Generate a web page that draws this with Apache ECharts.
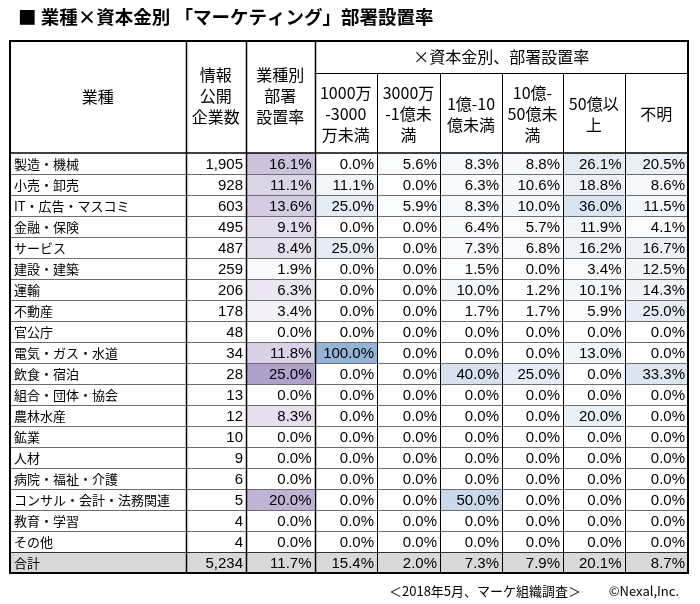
<!DOCTYPE html>
<html><head><meta charset="utf-8">
<script src="https://cdn.jsdelivr.net/npm/echarts@6/dist/echarts.min.js"></script>
<style>html,body{margin:0;padding:0;background:#fff}#c{width:700px;height:604px}</style>
</head><body><div id="c"></div>
<script>
// ---------- data ----------
const industries = ['製造・機械','小売・卸売','IT・広告・マスコミ','金融・保険','サービス','建設・建築','運輸','不動産','官公庁','電気・ガス・水道','飲食・宿泊','組合・団体・協会','農林水産','鉱業','人材','病院・福祉・介護','コンサル・会計・法務関連','教育・学習','その他','合計'];
const companies = [1905,928,603,495,487,259,206,178,48,34,28,13,12,10,9,6,5,4,4,5234];
const deptRate  = [16.1,11.1,13.6,9.1,8.4,1.9,6.3,3.4,0.0,11.8,25.0,0.0,8.3,0.0,0.0,0.0,20.0,0.0,0.0,11.7];
const cap1000to3000 = [0.0,11.1,25.0,0.0,25.0,0.0,0.0,0.0,0.0,100.0,0.0,0.0,0.0,0.0,0.0,0.0,0.0,0.0,0.0,15.4];
const cap3000to1oku = [5.6,0.0,5.9,0.0,0.0,0.0,0.0,0.0,0.0,0.0,0.0,0.0,0.0,0.0,0.0,0.0,0.0,0.0,0.0,2.0];
const cap1to10oku   = [8.3,6.3,8.3,6.4,7.3,1.5,10.0,1.7,0.0,0.0,40.0,0.0,0.0,0.0,0.0,0.0,50.0,0.0,0.0,7.3];
const cap10to50oku  = [8.8,10.6,10.0,5.7,6.8,0.0,1.2,1.7,0.0,0.0,25.0,0.0,0.0,0.0,0.0,0.0,0.0,0.0,0.0,7.9];
const cap50okuPlus  = [26.1,18.8,36.0,11.9,16.2,3.4,10.1,5.9,0.0,13.0,0.0,0.0,20.0,0.0,0.0,0.0,0.0,0.0,0.0,20.1];
const capUnknown    = [20.5,8.6,11.5,4.1,16.7,12.5,14.3,25.0,0.0,0.0,33.3,0.0,0.0,0.0,0.0,0.0,0.0,0.0,0.0,8.7];
const capCols = [cap1000to3000, cap3000to1oku, cap1to10oku, cap10to50oku, cap50okuPlus, capUnknown];
const headerIndustry = '業種';
const headerCompanies = '情報\n公開\n企業数';
const headerRate = '業種別\n部署\n設置率';
const headerGroup = '×資本金別、部署設置率';
const capHeaders = ['1000万\n-3000\n万未満','3000万\n-1億未\n満','1億-10\n億未満','10億-\n50億未\n満','50億以\n上','不明'];
const titleText = '■ 業種×資本金別 「マーケティング」部署設置率';
const footerSource = '＜2018年5月、マーケ組織調査＞';
const footerCopy = '©Nexal,Inc.';

// ---------- layout ----------
const L = 10, T = 41, SUB = 73, HB = 153, RH = 21;
const W = 678;
const colEdges = [0, 175.5, 236, 304.5, 367, 430, 492, 553, 614.5, 678];
const BOTTOM = HB + RH * industries.length;
const NUM_FONT = '15px "Liberation Sans", Arial, sans-serif';
const JP_FONT = '13px "Noto Sans CJK JP", sans-serif';
const HDR_FONT = '16px "Noto Sans CJK JP", sans-serif';
const PURPLE = [177, 160, 204];
const BLUE = [149, 179, 215];
const nData = industries.length - 1;
const maxRate = Math.max(...deptRate.slice(0, nData));
const maxCap = Math.max(...capCols.map(a => Math.max(...a.slice(0, nData))));
function mix(c, t) {
  t = Math.max(0, Math.min(1, t));
  const v = c.map(x => Math.round(255 - (255 - x) * t));
  return 'rgb(' + v.join(',') + ')';
}

const cells = [];
for (let r = 0; r < industries.length; r++)
  for (let c = 0; c < colEdges.length - 1; c++) cells.push([c, r]);

function renderItem(params, api) {
  const c = api.value(0), r = api.value(1);
  const left = api.coord([colEdges[c], r])[0];
  const right = api.coord([colEdges[c + 1], r])[0];
  const yc = api.coord([0, r])[1];
  const h = api.size([0, 1])[1];
  const top = yc - h / 2;
  const isTotal = r === industries.length - 1;
  let fill = '#fff', text, align = 'right', tx = right - 3, font = NUM_FONT;
  if (c === 0) { text = industries[r]; align = 'left'; tx = left + 4; font = JP_FONT; }
  else if (c === 1) { text = companies[r].toLocaleString('en-US'); }
  else {
    const v = c === 2 ? deptRate[r] : capCols[c - 3][r];
    text = v.toFixed(1) + '%';
    fill = c === 2 ? mix(PURPLE, v / maxRate) : mix(BLUE, v / maxCap);
  }
  if (isTotal) fill = '#d9d9d9';
  const by = Math.round(top + h) + 0.5;
  const children = [
    { type: 'rect', shape: { x: left, y: top, width: right - left, height: h }, style: { fill }, z2: 0 },
    { type: 'text', style: { text, x: tx, y: yc + 1, align, verticalAlign: 'middle', font, fill: '#000' }, z2: 5 }
  ];
  if (r < industries.length - 1) {
    children.push({ type: 'line', shape: { x1: left, y1: by, x2: right, y2: by },
      style: { stroke: r === industries.length - 2 ? '#333' : '#6e6e6e', lineWidth: 1 }, z2: 10 });
  }
  return { type: 'group', children };
}

// ---------- static graphic (header / borders / title) ----------
const g = [];
const px = i => L + colEdges[i];
g.push({ type: 'text', left: 18, top: 8, style: { text: titleText, font: 'bold 18.5px "Noto Sans CJK JP", sans-serif', fill: '#000' } });
function hText(text, x, y) {
  g.push({ type: 'text', x, y, style: { text, align: 'center', verticalAlign: 'middle', font: HDR_FONT, lineHeight: 21, fill: '#000' } });
}
hText(headerIndustry, (px(0) + px(1)) / 2, (T + HB) / 2);
hText(headerCompanies, (px(1) + px(2)) / 2, 96);
hText(headerRate, (px(2) + px(3)) / 2, 96);
hText(headerGroup, (px(3) + px(9)) / 2, (T + SUB) / 2);
capHeaders.forEach((t, i) => hText(t, (px(3 + i) + px(4 + i)) / 2, (SUB + HB) / 2 + 1));
// lines
function ln(x1, y1, x2, y2, w, col) {
  g.push({ type: 'line', z: 50, shape: { x1, y1, x2, y2 }, style: { stroke: col || '#000', lineWidth: w } });
}
ln(px(3), SUB + 0.5, px(9), SUB + 0.5, 1, '#000');
ln(px(0), HB, px(9), HB, 1.5, '#000');
for (let i = 1; i < 9; i++) {
  const x = Math.round(px(i)) + 0.5;
  if (i <= 3) ln(x, T, x, BOTTOM, 1.5, '#000');
  else ln(x, SUB, x, BOTTOM, 1, '#000');
}
g.push({ type: 'rect', z: 60, shape: { x: L, y: T, width: W, height: BOTTOM - T }, style: { fill: 'none', stroke: '#000', lineWidth: 2 } });
g.push({ type: 'text', x: 389, y: 591, style: { text: footerSource, align: 'left', verticalAlign: 'middle', font: '13px "Noto Sans CJK JP", sans-serif', fill: '#000' } });
g.push({ type: 'text', x: 679, y: 591, style: { text: footerCopy, align: 'right', verticalAlign: 'middle', font: '13px "Noto Sans CJK JP", sans-serif', fill: '#000' } });

const chart = echarts.init(document.getElementById('c'), null, { renderer: 'canvas' });
chart.setOption({
  animation: false,
  backgroundColor: '#fff',
  grid: { left: L, top: HB, width: W, height: RH * industries.length },
  xAxis: { type: 'value', min: 0, max: W, show: false },
  yAxis: { type: 'category', data: industries, inverse: true, show: false },
  series: [{ type: 'custom', data: cells, renderItem, clip: false }],
  graphic: g
});
</script></body></html>
